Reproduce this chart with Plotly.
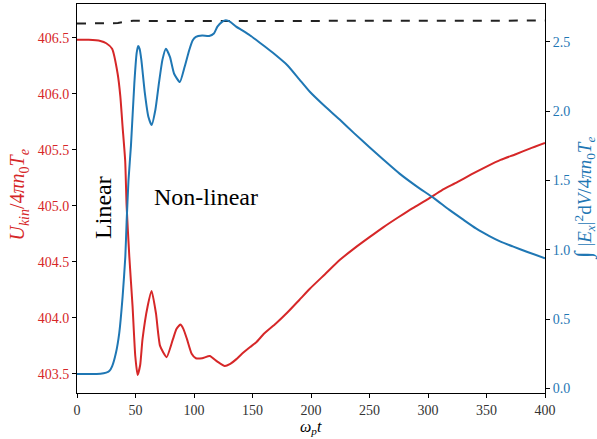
import plotly.graph_objects as go

# ---- data ----
t_red = [0, 10, 20, 25, 30, 34.7, 37, 39, 41.2, 42.4, 44.7, 47.5, 49.8, 51.8, 54, 56,
         60.3, 63.8, 67.5, 71, 76.6, 82, 85, 88.3, 91, 94, 98, 101.6, 107, 113.5, 120,
         126.3, 131, 136, 141, 148, 153, 160, 170, 180, 190, 199, 212, 225, 237, 250,
         262, 275, 287, 300, 312, 325, 337, 350, 362, 375, 387, 400]
u_kin = [406.48, 406.48, 406.47, 406.45, 406.40, 406.18, 405.98, 405.70, 405.40, 405.00,
         404.55, 404.10, 403.66, 403.49, 403.58, 403.81, 404.10, 404.24, 404.04, 403.75,
         403.65, 403.81, 403.90, 403.94, 403.90, 403.81, 403.68, 403.64, 403.64, 403.66,
         403.61, 403.57, 403.59, 403.63, 403.68, 403.74, 403.78, 403.86, 403.95, 404.05,
         404.16, 404.26, 404.39, 404.52, 404.62, 404.72, 404.81, 404.90, 404.98, 405.06,
         405.14, 405.21, 405.28, 405.35, 405.41, 405.46, 405.51, 405.56]

t_blue = [0, 10, 20, 25, 27.6, 30, 33.3, 36.1, 39, 41.3, 42.4, 44, 46.1, 49, 51, 52.3,
          53.5, 55, 58, 61, 63.8, 67, 70, 73, 76, 79.5, 83, 87.9, 92, 95.9, 98.8, 101.6,
          107, 113, 117, 120, 124, 127.2, 131, 136, 141, 147.7, 153, 160, 169, 180, 190,
          199, 210, 224.5, 237, 250, 262, 275.7, 290, 305.6, 318, 329.8, 341, 352.5, 362,
          372.4, 385, 400]
e_field = [0.105, 0.105, 0.107, 0.115, 0.126, 0.16, 0.258, 0.40, 0.665, 0.95, 1.2, 1.5,
           1.75, 2.20, 2.42, 2.47, 2.45, 2.37, 2.13, 1.96, 1.90, 2.01, 2.20, 2.37, 2.45,
           2.39, 2.27, 2.21, 2.32, 2.44, 2.51, 2.536, 2.545, 2.543, 2.56, 2.61, 2.644,
           2.655, 2.644, 2.61, 2.584, 2.548, 2.515, 2.47, 2.41, 2.33, 2.23, 2.14, 2.05,
           1.94, 1.84, 1.74, 1.65, 1.55, 1.46, 1.37, 1.29, 1.22, 1.155, 1.10, 1.06,
           1.025, 0.985, 0.94]

t_total = [0, 20, 35, 42, 48, 100, 200, 300, 400]
total = [406.625, 406.626, 406.63, 406.645, 406.65, 406.648, 406.65, 406.652, 406.652]

x_ticks = [0, 50, 100, 150, 200, 250, 300, 350, 400]
left_ticks = [403.5, 404.0, 404.5, 405.0, 405.5, 406.0, 406.5]
right_ticks = [0.0, 0.5, 1.0, 1.5, 2.0, 2.5]

RED = "#d62728"
BLUE = "#1f77b4"
FONT = "Liberation Serif"

fig = go.Figure()
fig.add_trace(go.Scatter(x=t_red, y=u_kin, mode="lines", yaxis="y",
                         line=dict(color=RED, width=2, shape="spline", smoothing=0.5),
                         showlegend=False))
fig.add_trace(go.Scatter(x=t_total, y=total, mode="lines", yaxis="y",
                         line=dict(color="#222222", width=2, dash="dash"),
                         showlegend=False))
fig.add_trace(go.Scatter(x=t_blue, y=e_field, mode="lines", yaxis="y2",
                         line=dict(color=BLUE, width=2, shape="spline", smoothing=0.5),
                         showlegend=False))

axis_common = dict(showgrid=False, zeroline=False, ticks="outside", ticklen=4,
                   tickcolor="black", linecolor="black", linewidth=1, showline=True)

fig.update_layout(
    width=597, height=439,
    margin=dict(l=77, r=52, t=4, b=46),
    plot_bgcolor="white", paper_bgcolor="white",
    font=dict(family=FONT, size=14, color="black"),
    xaxis=dict(range=[0, 400], tickvals=x_ticks, mirror=True,
               tickfont=dict(family=FONT, size=14, color="#333333"), **axis_common),
    yaxis=dict(range=[403.33, 406.80], tickvals=left_ticks, tickformat=".1f",
               tickfont=dict(family=FONT, size=14, color=RED), **axis_common),
    yaxis2=dict(range=[-0.032, 2.773], tickvals=right_ticks, tickformat=".1f",
                overlaying="y", side="right",
                tickfont=dict(family=FONT, size=14, color=BLUE), **axis_common),
)

annotations = [
    dict(text="<i>ω</i><sub><i>p</i></sub><i>t</i>", xref="paper", yref="paper",
         x=0.5, y=-0.118, showarrow=False, font=dict(family=FONT, size=16, color="black"),
         yanchor="bottom"),
    dict(text="<i>U</i><sub><i>kin</i></sub>/4<i>πn</i><sub>0</sub><i>T</i><sub><i>e</i></sub>",
         xref="paper", yref="paper", x=-0.124, y=0.51, textangle=-90, showarrow=False,
         font=dict(family=FONT, size=20, color=RED), xanchor="center", yanchor="middle"),
    dict(text="<span style='font-size:24px'>∫</span> |<i>E</i><sub><i>x</i></sub>|<sup>2</sup>d<i>V</i>/4<i>πn</i><sub>0</sub><i>T</i><sub><i>e</i></sub>",
         xref="paper", yref="paper", x=1.082, y=0.5, textangle=-90, showarrow=False,
         font=dict(family=FONT, size=19, color=BLUE), xanchor="center", yanchor="middle"),
    dict(text="Linear", xref="x", yref="y", x=22.2, y=404.99, textangle=-90,
         showarrow=False, font=dict(family=FONT, size=24, color="black")),
    dict(text="Non-linear", xref="x", yref="y", x=110.3, y=405.08,
         showarrow=False, font=dict(family=FONT, size=24, color="black")),
]
fig.update_layout(annotations=annotations)

fig.write_html("out.html")
